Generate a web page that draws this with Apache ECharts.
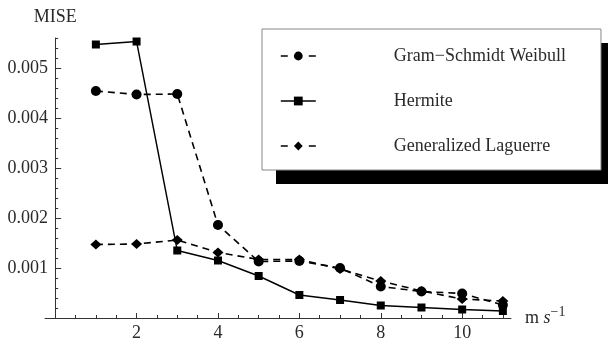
<!DOCTYPE html>
<html><head><meta charset="utf-8">
<script src="https://cdn.jsdelivr.net/npm/echarts@6/dist/echarts.min.js"></script>
<style>html,body{margin:0;padding:0;background:#fff}#c{width:608px;height:343px}</style>
</head><body><div id="c"></div>
<script>
// ---- data ----
const xValues = [1, 2, 3, 4, 5, 6, 7, 8, 9, 10, 11];
const gramSchmidtWeibull = [0.00454, 0.00447, 0.00448, 0.00186, 0.00113, 0.00114, 0.00100, 0.00063, 0.00053, 0.00049, 0.00026];
const hermite = [0.00547, 0.00553, 0.00135, 0.00115, 0.00084, 0.00046, 0.00036, 0.00025, 0.00021, 0.00017, 0.00014];
const generalizedLaguerre = [0.00147, 0.00148, 0.00156, 0.00131, 0.00117, 0.00117, 0.00098, 0.00074, 0.00054, 0.00038, 0.00034];
const seriesNames = ['Gram\u2212Schmidt Weibull', 'Hermite', 'Generalized Laguerre'];
// ---- ticks ----
const xMajorTicks = [0, 2, 4, 6, 8, 10];
const xLabelValues = [2, 4, 6, 8, 10];
const xMinorTicks = [0.5, 1, 1.5, 2.5, 3, 3.5, 4.5, 5, 5.5, 6.5, 7, 7.5, 8.5, 9, 9.5, 10.5, 11];
const yMajorTicks = [0.001, 0.002, 0.003, 0.004, 0.005];
const yMinorTicks = [0.0002, 0.0004, 0.0006, 0.0008, 0.0012, 0.0014, 0.0016, 0.0018, 0.0022, 0.0024, 0.0026, 0.0028,
  0.0032, 0.0034, 0.0036, 0.0038, 0.0042, 0.0044, 0.0046, 0.0048, 0.0052, 0.0054, 0.0056];

const FONT = 'Liberation Serif';
const TXT = '#2a2a2a';
const AX = '#333';

function pairs(ys) { return xValues.map((x, i) => [x, ys[i]]); }

const chart = echarts.init(document.getElementById('c'), null, { renderer: 'canvas' });
chart.setOption({
  animation: false,
  backgroundColor: '#fff',
  grid: { left: 45, right: 97, top: 38, bottom: 25, outerBoundsMode: 'none', containLabel: false },
  graphic: [{
    type: 'rect', z: 1, silent: true,
    shape: { x: 276, y: 43, width: 337, height: 141 },
    style: { fill: '#000' }
  }],
  xAxis: [{
    type: 'value', min: -0.25, max: 11.2, position: 'bottom',
    name: '{m|m }{s|s}{sup|\u22121}', nameLocation: 'end', nameGap: 14,
    nameTextStyle: { rich: {
      m: { fontFamily: FONT, fontSize: 18, color: TXT },
      s: { fontFamily: FONT, fontSize: 18, fontStyle: 'italic', color: TXT },
      sup: { fontFamily: FONT, fontSize: 14, color: TXT, padding: [0, 0, 11, 0] }
    } },
    axisLine: { show: true, onZero: false, lineStyle: { color: AX, width: 1 } },
    axisTick: { show: true, inside: true, length: 5, customValues: xMajorTicks, lineStyle: { color: AX } },
    axisLabel: { customValues: xLabelValues, margin: 6, fontFamily: FONT, fontSize: 18, color: TXT },
    splitLine: { show: false }
  }, {
    type: 'value', min: -0.25, max: 11.2, position: 'bottom',
    axisLine: { show: false, onZero: false },
    axisTick: { show: true, inside: true, length: 3, customValues: xMinorTicks, lineStyle: { color: AX } },
    axisLabel: { show: false },
    splitLine: { show: false }
  }],
  yAxis: [{
    type: 'value', min: 0, max: 0.0056, position: 'left',
    name: 'MISE', nameLocation: 'end', nameGap: 12,
    nameTextStyle: { fontFamily: FONT, fontSize: 18, color: TXT, align: 'center' },
    axisLine: { show: true, onZero: true, lineStyle: { color: AX, width: 1 } },
    axisTick: { show: true, inside: true, length: 6, customValues: yMajorTicks, lineStyle: { color: AX } },
    axisLabel: { customValues: yMajorTicks, margin: -3, fontFamily: FONT, fontSize: 18, color: TXT,
      formatter: v => v.toFixed(3) },
    splitLine: { show: false }
  }, {
    type: 'value', min: 0, max: 0.0056, position: 'left',
    axisLine: { show: false, onZero: true },
    axisTick: { show: true, inside: true, length: 3, customValues: yMinorTicks, lineStyle: { color: AX } },
    axisLabel: { show: false },
    splitLine: { show: false }
  }],
  legend: {
    orient: 'vertical', left: 262, top: 29, z: 6,
    padding: [18, 35, 15, 18],
    itemWidth: 35, itemHeight: 11, itemGap: 27,
    backgroundColor: '#fff', borderColor: '#888', borderWidth: 1,
    textStyle: { fontFamily: FONT, fontSize: 18, lineHeight: 16, color: TXT, padding: [0, 0, 0, 73] },
    data: [
      { name: seriesNames[0], lineStyle: { type: [7, 21], width: 1.6, color: '#000' } },
      { name: seriesNames[1], lineStyle: { width: 1.4, color: '#000' } },
      { name: seriesNames[2], lineStyle: { type: [7, 21], width: 1.6, color: '#000' } }
    ]
  },
  series: [{
    name: seriesNames[0], type: 'line', data: pairs(gramSchmidtWeibull),
    symbol: 'circle', symbolSize: 10, showAllSymbol: true,
    lineStyle: { color: '#000', width: 1.6, type: [7, 5] },
    itemStyle: { color: '#000' }, z: 3
  }, {
    name: seriesNames[1], type: 'line', data: pairs(hermite),
    symbol: 'rect', symbolSize: 8, showAllSymbol: true,
    lineStyle: { color: '#000', width: 1.4, type: 'solid' },
    itemStyle: { color: '#000' }, z: 4
  }, {
    name: seriesNames[2], type: 'line', data: pairs(generalizedLaguerre),
    symbol: 'diamond', symbolSize: [11, 10], showAllSymbol: true,
    lineStyle: { color: '#000', width: 1.6, type: [7, 5] },
    itemStyle: { color: '#000' }, z: 5
  }]
});
</script>
</body></html>
